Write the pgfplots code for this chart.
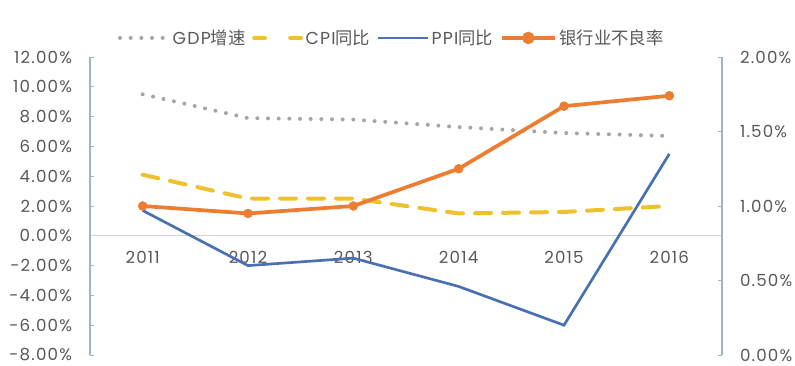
\documentclass[border=0pt]{standalone}
\usepackage{pgfplots}
\pgfplotsset{compat=1.18}
\usepackage{fontspec}
\setmainfont[LetterSpace=7]{Poppins}
\newfontfamily\cjk{Noto Sans CJK SC}
\definecolor{cgdp}{RGB}{166,166,166}
\definecolor{ccpi}{RGB}{240,193,46}
\definecolor{cppi}{RGB}{72,112,178}
\definecolor{cnpl}{RGB}{237,125,49}
\definecolor{caxis}{RGB}{160,180,196}
\definecolor{ctext}{RGB}{89,89,89}
\definecolor{czero}{RGB}{210,210,210}
\pgfplotsset{
  leg gdp/.style={legend image code/.code={\draw[##1] (1pt,0pt) -- (37pt,0pt);}},
  leg cpi/.style={legend image code/.code={\draw[##1, dash pattern=on 8pt off 19pt] (2pt,0pt) -- (37pt,0pt);}},
  leg ppi/.style={legend image code/.code={\draw[##1] (0pt,0pt) -- (37pt,0pt);}},
  leg npl/.style={legend image code/.code={\draw[##1] (0pt,0pt) -- (40pt,0pt); \fill[cnpl] (20pt,0pt) circle (3.2pt);}},
}
\begin{document}
\begin{tikzpicture}
\begin{axis}[
  name=ax,
  scale only axis, width=474pt, height=223.5pt,
  xmin=-0.5, xmax=5.5, ymin=-8, ymax=12,
  axis x line=middle, axis y line=left,
  x axis line style={czero, line width=0.8pt, -},
  y axis line style={caxis, line width=0.8pt, -},
  xtick={0,1,2,3,4,5},
  xticklabels={2011,2012,2013,2014,2015,2016},
  xtick style={draw=none},
  xticklabel style={yshift=-8pt, font=\fontsize{12.5}{14}\selectfont, text=ctext},
  ytick={-8,-6,-4,-2,0,2,4,6,8,10,12},
  yticklabels={-8.00\%,-6.00\%,-4.00\%,-2.00\%,0.00\%,2.00\%,4.00\%,6.00\%,8.00\%,10.00\%,12.00\%},
  yticklabel style={xshift=-10pt, font=\fontsize{12.5}{14}\selectfont, text=ctext},
  ytick style={caxis, line width=0.6pt},
  tick align=inside, major tick length=3pt,
  clip=false,
  legend columns=4,
  legend style={draw=none, fill=none, at={(0.478,1.064)}, anchor=center,
    font=\fontsize{13}{15}\selectfont, text=ctext,
    /tikz/every even column/.append style={column sep=3pt},
    inner sep=0pt},
  legend cell align=left,
]
\addplot[cgdp, line width=3pt, line cap=round, dash pattern=on 0pt off 8pt, leg gdp]
  coordinates {(0,9.5) (1,7.9) (2,7.8) (3,7.3) (4,6.9) (5,6.7)};
\addlegendentry{GDP{\cjk 增速}}
\addplot[ccpi, line width=3pt, line cap=round, dash pattern=on 12pt off 9pt, leg cpi]
  coordinates {(0,4.1) (1,2.5) (2,2.5) (3,1.5) (4,1.6) (5,2.0)};
\addlegendentry{CPI{\cjk 同比}}
\addplot[cppi, line width=2pt, leg ppi]
  coordinates {(0,1.7) (1,-2.0) (2,-1.5) (3,-3.4) (4,-6.0) (5,5.5)};
\addlegendentry{PPI{\cjk 同比}}
\addlegendimage{cnpl, line width=2.8pt, leg npl}
\addlegendentry{{\cjk 银行业不良率}}
\end{axis}
\begin{axis}[
  scale only axis, width=474pt, height=223.5pt,
  xmin=-0.5, xmax=5.5, ymin=0, ymax=2,
  axis x line=none, axis y line=right,
  y axis line style={caxis, line width=0.8pt, -},
  ytick={0,0.5,1,1.5,2},
  yticklabels={0.00\%,0.50\%,1.00\%,1.50\%,2.00\%},
  yticklabel style={xshift=10pt, font=\fontsize{12.5}{14}\selectfont, text=ctext},
  ytick style={caxis, line width=0.6pt},
  tick align=inside, major tick length=3pt,
  clip=false,
]
\addplot[cnpl, line width=2.8pt, mark=*, mark size=3.3pt, mark options={fill=cnpl, draw=cnpl, line width=0.5pt}]
  coordinates {(0,1.00) (1,0.95) (2,1.00) (3,1.25) (4,1.67) (5,1.74)};
\end{axis}
\pgfresetboundingbox
\path[use as bounding box] ([xshift=-67.5pt,yshift=-7.5pt]ax.south west) rectangle ([xshift=54.75pt,yshift=42.75pt]ax.north east);
\end{tikzpicture}
\end{document}
